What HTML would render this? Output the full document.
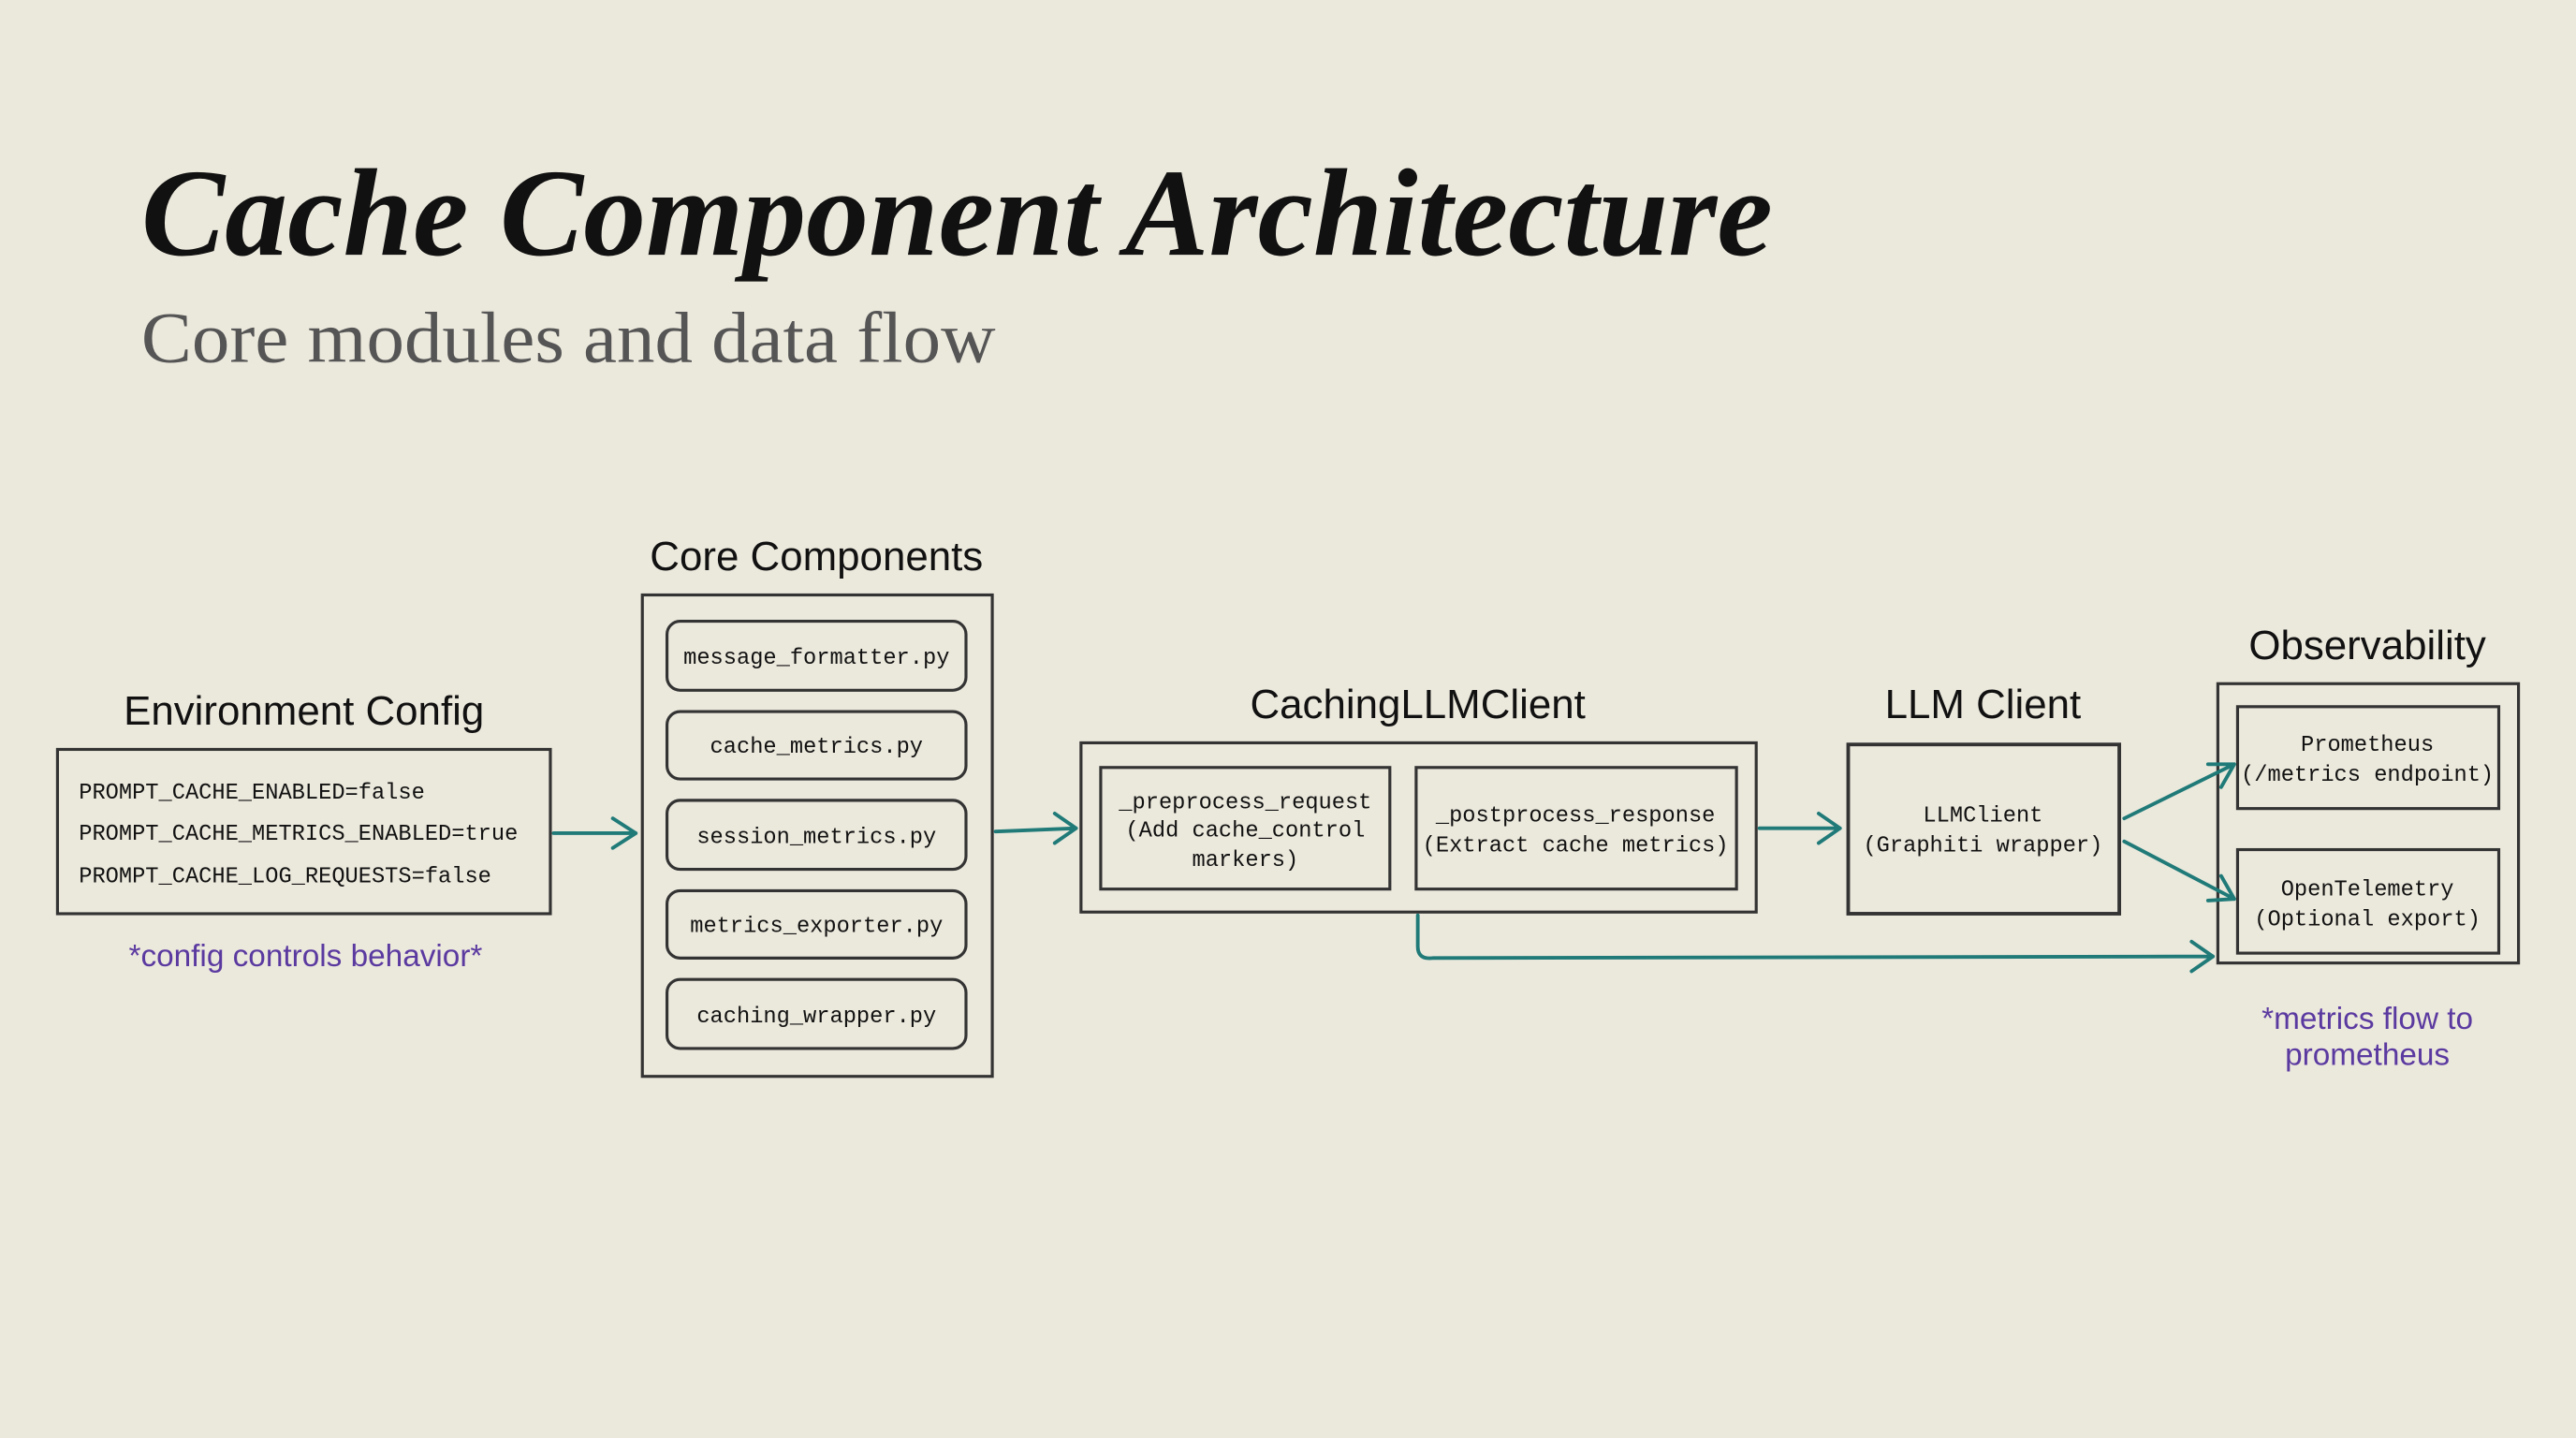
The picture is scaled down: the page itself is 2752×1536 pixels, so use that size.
<!DOCTYPE html>
<html><head><meta charset="utf-8"><style>
html,body{margin:0;padding:0;background:#ebe8dc;}
svg{display:block;}
.h{font-family:"Liberation Sans Narrow","Liberation Sans",sans-serif;fill:#111;}
.m{font-family:"Liberation Mono",monospace;fill:#111;}
.p{font-family:"Liberation Sans Narrow","Liberation Sans",sans-serif;fill:#5b3aa0;}
</style></head><body>
<svg width="2752" height="1536" viewBox="0 0 1568 875" xmlns="http://www.w3.org/2000/svg">
<rect width="1568" height="875" fill="#ebe8dc"/>
<text x="86" y="155" font-family="Liberation Serif,serif" font-style="italic" font-weight="bold" font-size="76" fill="#111" textLength="993" lengthAdjust="spacingAndGlyphs">Cache Component Architecture</text>
<text x="86" y="220" font-family="Liberation Serif,serif" font-size="44" fill="#555" textLength="520" lengthAdjust="spacingAndGlyphs">Core modules and data flow</text>

<g fill="none" stroke="#333" stroke-width="1.8">
<rect x="35" y="456" width="300" height="100"/>
<rect x="391" y="362" width="213" height="293"/>
<rect x="406" y="378" width="182" height="42" rx="8"/>
<rect x="406" y="433" width="182" height="41" rx="8"/>
<rect x="406" y="487" width="182" height="42" rx="8"/>
<rect x="406" y="542" width="182" height="41" rx="8"/>
<rect x="406" y="596" width="182" height="42" rx="8"/>
<rect x="658" y="452" width="411" height="103"/>
<rect x="670" y="467" width="176" height="74"/>
<rect x="862" y="467" width="195" height="74"/>
<rect x="1125" y="453" width="165" height="103" stroke-width="2.2"/>
<rect x="1350" y="416" width="183" height="170"/>
<rect x="1362" y="430" width="159" height="62"/>
<rect x="1362" y="517" width="159" height="63"/>
</g>

<g class="h" text-anchor="middle" font-size="25">
<text x="185" y="441">Environment Config</text>
<text x="497" y="347">Core Components</text>
<text x="863" y="437">CachingLLMClient</text>
<text x="1207" y="437">LLM Client</text>
<text x="1441" y="401">Observability</text>
</g>

<g class="m" font-size="13.5">
<text x="48" y="486">PROMPT_CACHE_ENABLED=false</text>
<text x="48" y="511">PROMPT_CACHE_METRICS_ENABLED=true</text>
<text x="48" y="537">PROMPT_CACHE_LOG_REQUESTS=false</text>
</g>
<g class="m" font-size="13.5" text-anchor="middle">
<text x="497" y="404">message_formatter.py</text>
<text x="497" y="458">cache_metrics.py</text>
<text x="497" y="513">session_metrics.py</text>
<text x="497" y="567">metrics_exporter.py</text>
<text x="497" y="622">caching_wrapper.py</text>
<text x="758" y="492">_preprocess_request</text>
<text x="758" y="509">(Add cache_control</text>
<text x="758" y="527">markers)</text>
<text x="959" y="500">_postprocess_response</text>
<text x="959" y="518">(Extract cache metrics)</text>
<text x="1207" y="500">LLMClient</text>
<text x="1207" y="518">(Graphiti wrapper)</text>
<text x="1441" y="457">Prometheus</text>
<text x="1441" y="475">(/metrics endpoint)</text>
<text x="1441" y="545">OpenTelemetry</text>
<text x="1441" y="563">(Optional export)</text>
</g>

<g class="p" text-anchor="middle" font-size="19">
<text x="186" y="588">*config controls behavior*</text>
<text x="1441" y="626">*metrics flow to</text>
<text x="1441" y="648">prometheus</text>
</g>

<g fill="none" stroke="#1f7a78" stroke-width="2.2" stroke-linecap="round" stroke-linejoin="round">
<path d="M337 507 L387 507 M373 498 L387 507 L373 516"/>
<path d="M606 506 L655 504 M642 495 L655 504 L642 513"/>
<path d="M1071 504 L1120 504 M1107 495 L1120 504 L1107 513"/>
<path d="M1293 498 L1360 465 M1344 465 L1360 465 L1352 479"/>
<path d="M1293 512 L1360 547 M1352 533 L1360 547 L1344 548"/>
<path d="M863 557 L863 576 Q863 584 872 583 L1347 582 M1334 573 L1347 582 L1334 591"/>
</g>
</svg>
</body></html>
